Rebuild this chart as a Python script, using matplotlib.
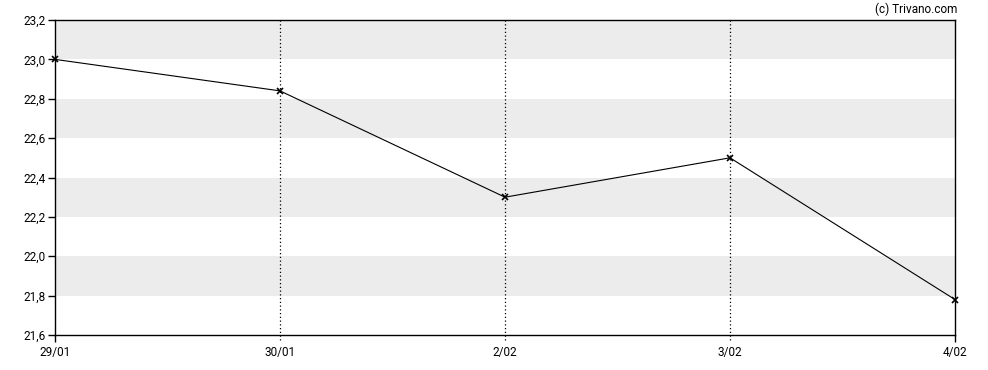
import matplotlib.pyplot as plt

# Data
dates = ["29/01", "30/01", "2/02", "3/02", "4/02"]
prices = [23.00, 22.84, 22.30, 22.50, 21.78]
y_ticks = [21.6, 21.8, 22.0, 22.2, 22.4, 22.6, 22.8, 23.0, 23.2]

plt.rcParams['font.family'] = ['Roboto', 'DejaVu Sans']

fig = plt.figure(figsize=(9.88, 3.70), dpi=100)
ax = fig.add_axes([55 / 988, 35 / 370, 900 / 988, 315 / 370])

x = list(range(len(dates)))

# alternating grey bands
for i in range(len(y_ticks) - 1):
    if i % 2 == 1:
        ax.axhspan(y_ticks[i], y_ticks[i + 1], color="#ececec", lw=0, zorder=0)

# dotted vertical lines at inner dates, reaching slightly below the axis
for xi in x[1:-1]:
    ax.axvline(xi, ymin=-0.015, ymax=1, color="black", lw=0.9, ls=(0, (1, 2)),
               clip_on=False, zorder=1)

ax.plot(x, prices, color="black", lw=0.8, marker="x", ms=4, mew=1.2, zorder=3,
        clip_on=False)

ax.set_xlim(0, len(dates) - 1)
ax.set_ylim(21.6, 23.2)
ax.set_yticks(y_ticks)
ax.set_yticklabels([f"{v:.1f}".replace(".", ",") for v in y_ticks])
ax.set_xticks([0, len(dates) - 1])
ax.set_xticklabels([dates[0], dates[-1]])
ax.set_xticks(x[1:-1], minor=True)
ax.set_xticklabels(dates[1:-1], minor=True)
ax.tick_params(axis="x", which="both", length=5, width=1, pad=3, labelsize=8.5)
ax.tick_params(axis="x", which="minor", length=0, pad=8)
ax.tick_params(axis="y", length=5, width=1, pad=2, labelsize=8.5)

for s in ax.spines.values():
    s.set_linewidth(1)
    s.set_color("black")

fig.text(957 / 988, 1 - 9 / 370, "(c) Trivano.com", ha="right", va="center",
         fontsize=8.5)

fig.savefig("out.png", dpi=100)
